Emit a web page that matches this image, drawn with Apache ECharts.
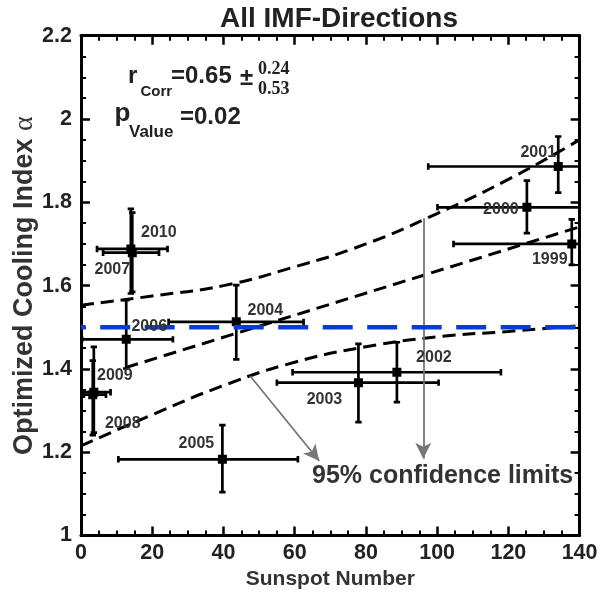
<!DOCTYPE html>
<html>
<head>
<meta charset="utf-8">
<script src="https://cdn.jsdelivr.net/npm/echarts@6/dist/echarts.min.js"></script>
<style>
  html, body { margin: 0; padding: 0; background: #fff; }
  #chart { width: 608px; height: 593px; }
</style>
</head>
<body>
<div id="chart"></div>
<script>
// Yearly observations: sunspot number and optimized cooling index, each with its range
const years       = ['1999', '2000', '2001', '2002', '2003', '2004', '2005', '2006', '2007', '2008', '2009', '2010'];
const sunspot     = [137.8, 125.2, 134.0, 88.7, 77.9, 43.6, 39.7, 12.7, 14.4, 3.3, 3.6, 14.0];
const sunspotLow  = [104.6, 100.1, 97.5, 59.4, 55.0, 24.6, 10.5, 0.3, 6.2, 0.8, 0.2, 4.5];
const sunspotHigh = [171.0, 150.3, 170.5, 117.9, 100.4, 62.5, 60.9, 25.8, 21.9, 7.0, 8.3, 24.3];
const alpha       = [1.700, 1.788, 1.886, 1.392, 1.367, 1.513, 1.183, 1.471, 1.679, 1.338, 1.344, 1.688];
const alphaLow    = [1.650, 1.726, 1.823, 1.320, 1.272, 1.423, 1.104, 1.401, 1.585, 1.241, 1.247, 1.581];
const alphaHigh   = [1.759, 1.852, 1.958, 1.464, 1.460, 1.601, 1.265, 1.565, 1.775, 1.420, 1.453, 1.784];

// Linear fit and its 95% confidence limits
const fitX      = [12.5, 140];
const fitY      = [1.403, 1.741];
const bandX     = [0, 20, 40, 60, 80, 100, 120, 140];
const bandUpper = [1.553, 1.575, 1.600, 1.645, 1.700, 1.773, 1.855, 1.950];
const bandLower = [1.215, 1.290, 1.360, 1.416, 1.453, 1.477, 1.490, 1.504];
const referenceAlpha = 1.5;

// Axis ranges and tick labels
const xTicks = [0, 20, 40, 60, 80, 100, 120, 140];
const yTicks = ['1', '1.2', '1.4', '1.6', '1.8', '2', '2.2'];

// Annotation arrows pointing at the confidence limits (start -> head tip)
const arrowLower = [[47.5, 1.383], [66.9, 1.179]];
const arrowUpper = [[96.1, 1.762], [96.1, 1.184]];

// Year label placement around each point (pixels)
const labelOffset = {
  '1999': [-22, 16], '2000': [-26, 2], '2001': [-20, -14], '2002': [37, -15],
  '2003': [-34, 17], '2004': [29, -11], '2005': [-26, -16], '2006': [23, -13],
  '2007': [-20, 17], '2008': [30, 29], '2009': [21, -17], '2010': [28, -16]
};

const FONT = '"Liberation Sans", Arial, Helvetica, sans-serif';
const SERIF = '"Liberation Serif", "Times New Roman", serif';

const pointData = years.map((y, i) => [sunspot[i], alpha[i], sunspotLow[i], sunspotHigh[i], alphaLow[i], alphaHigh[i], y]);

function renderErrorBar(params, api) {
  const x = api.value(0), y = api.value(1);
  const c  = api.coord([x, y]);
  const xl = api.coord([api.value(2), y]);
  const xh = api.coord([api.value(3), y]);
  const yl = api.coord([x, api.value(4)]);
  const yh = api.coord([x, api.value(5)]);
  const cap = 3.2, half = 4.5;
  const st = { stroke: '#000', lineWidth: 2.7, fill: null };
  const seg = (x1, y1, x2, y2) => ({ type: 'line', shape: { x1, y1, x2, y2 }, style: st });
  return {
    type: 'group',
    children: [
      seg(xl[0], c[1], xh[0], c[1]),
      seg(xl[0], c[1] - cap, xl[0], c[1] + cap),
      seg(xh[0], c[1] - cap, xh[0], c[1] + cap),
      seg(c[0], yl[1], c[0], yh[1]),
      seg(c[0] - cap, yl[1], c[0] + cap, yl[1]),
      seg(c[0] - cap, yh[1], c[0] + cap, yh[1]),
      { type: 'rect', shape: { x: c[0] - half, y: c[1] - half, width: half * 2, height: half * 2 }, style: { fill: '#000' } }
    ]
  };
}

function renderYearLabel(params, api) {
  const c = api.coord([api.value(0), api.value(1)]);
  const yr = years[params.dataIndex];
  const off = labelOffset[yr];
  return {
    type: 'text',
    x: c[0] + off[0], y: c[1] + off[1],
    style: { text: yr, fill: '#333', fontFamily: FONT, fontWeight: 'bold', fontSize: 16, align: 'center', verticalAlign: 'middle' }
  };
}

const tickStyle = { show: true, inside: true, length: 9, lineStyle: { color: '#000', width: 2.5 } };
const minorStyle = { show: true, splitNumber: 4, length: 5, lineStyle: { color: '#000', width: 2 } };
const lineAxis = { show: true, onZero: false, lineStyle: { color: '#000', width: 3 } };
const labelStyle = { fontFamily: FONT, fontWeight: 'bold', fontSize: 21.5, color: '#222' };

const dashBlack = { color: '#000', width: 3, type: [13, 7] };

const option = {
  animation: false,
  backgroundColor: '#fff',
  grid: { left: 81, right: 28.4, top: 35.7, bottom: 57.5, containLabel: false, outerBoundsMode: 'none' },
  xAxis: [
    {
      type: 'value', min: xTicks[0], max: xTicks[xTicks.length - 1], interval: 20, position: 'bottom',
      axisLine: lineAxis, axisTick: tickStyle, minorTick: minorStyle, splitLine: { show: false },
      axisLabel: Object.assign({ margin: 7 }, labelStyle),
      name: 'Sunspot Number', nameLocation: 'middle', nameGap: 33, nameMoveOverlap: false,
      nameTextStyle: { fontFamily: FONT, fontWeight: 'bold', fontSize: 21, color: '#333' }
    },
    {
      type: 'value', min: xTicks[0], max: xTicks[xTicks.length - 1], interval: 20, position: 'top',
      axisLine: lineAxis, axisTick: tickStyle, minorTick: minorStyle, splitLine: { show: false },
      axisLabel: { show: false }
    }
  ],
  yAxis: [
    {
      type: 'value', min: 1, max: 2.2, interval: 0.2, position: 'left',
      axisLine: lineAxis, axisTick: tickStyle, minorTick: minorStyle, splitLine: { show: false },
      axisLabel: Object.assign({ margin: 9, formatter: (v) => yTicks[Math.round((v - 1) / 0.2)] }, labelStyle),
      name: 'Optimized Cooling Index {a|α}', nameLocation: 'middle', nameGap: 42, nameMoveOverlap: false,
      nameTextStyle: {
        fontFamily: FONT, fontWeight: 'bold', fontSize: 27, color: '#333',
        rich: { a: { fontFamily: SERIF, fontWeight: 'normal', fontSize: 28, color: '#333' } }
      }
    },
    {
      type: 'value', min: 1, max: 2.2, interval: 0.2, position: 'right',
      axisLine: lineAxis, axisTick: tickStyle, minorTick: minorStyle, splitLine: { show: false },
      axisLabel: { show: false }
    }
  ],
  title: {
    text: 'All IMF-Directions', left: 215, top: 0,
    textStyle: { fontFamily: FONT, fontWeight: 'bold', fontSize: 28, color: '#222' }
  },
  series: [
    {
      name: 'errorbars', type: 'custom', xAxisIndex: 0, yAxisIndex: 0, clip: true, z: 3,
      renderItem: renderErrorBar, data: pointData, silent: true
    },
    {
      name: 'upper', type: 'line', smooth: true, symbol: 'none', z: 4, silent: true,
      data: bandX.map((x, i) => [x, bandUpper[i]]), lineStyle: dashBlack
    },
    {
      name: 'lower', type: 'line', smooth: true, symbol: 'none', z: 4, silent: true,
      data: bandX.map((x, i) => [x, bandLower[i]]), lineStyle: dashBlack,
      markLine: {
        silent: true, symbol: ['none', 'arrow'], symbolSize: [12, 16],
        label: { show: false }, emphasis: { disabled: true },
        lineStyle: { color: '#777', width: 1.8, type: 'solid' },
        data: [
          [{ coord: arrowLower[0] }, { coord: arrowLower[1] }],
          [{ coord: arrowUpper[0] }, { coord: arrowUpper[1] }]
        ]
      }
    },
    {
      name: 'fit', type: 'line', symbol: 'none', z: 4, silent: true,
      data: fitX.map((x, i) => [x, fitY[i]]), lineStyle: dashBlack
    },
    {
      name: 'reference', type: 'line', symbol: 'none', z: 5, silent: true,
      data: [[xTicks[0], referenceAlpha], [xTicks[xTicks.length - 1], referenceAlpha]],
      lineStyle: { color: '#0b3bd6', width: 4.5, type: [30, 14.5], dashOffset: 25.3 }
    },
    {
      name: 'years', type: 'custom', z: 6, silent: true,
      renderItem: renderYearLabel, data: pointData
    }
  ],
  graphic: [
    { type: 'text', x: 128, y: 76.7, style: { text: 'r', font: 'bold 24px ' + FONT, fill: '#222', verticalAlign: 'middle' } },
    { type: 'text', x: 140.5, y: 91.7, style: { text: 'Corr', font: 'bold 15px ' + FONT, fill: '#222', verticalAlign: 'middle' } },
    { type: 'text', x: 171, y: 76.7, style: { text: '=0.65', font: 'bold 24px ' + FONT, fill: '#222', verticalAlign: 'middle' } },
    { type: 'text', x: 240, y: 78, style: { text: '±', font: 'bold 24px ' + FONT, fill: '#222', verticalAlign: 'middle' } },
    { type: 'text', x: 258, y: 69.2, style: { text: '0.24', font: 'bold 18px ' + SERIF, fill: '#222', verticalAlign: 'middle' } },
    { type: 'text', x: 258, y: 89.7, style: { text: '0.53', font: 'bold 18px ' + SERIF, fill: '#222', verticalAlign: 'middle' } },
    { type: 'text', x: 114.5, y: 114, style: { text: 'p', font: 'bold 26px ' + FONT, fill: '#222', verticalAlign: 'middle' } },
    { type: 'text', x: 129, y: 132, style: { text: 'Value', font: 'bold 17px ' + FONT, fill: '#222', verticalAlign: 'middle' } },
    { type: 'text', x: 180, y: 117.5, style: { text: '=0.02', font: 'bold 24px ' + FONT, fill: '#222', verticalAlign: 'middle' } },
    { type: 'text', x: 312, y: 476, style: { text: '95% confidence limits', font: 'bold 25px ' + FONT, fill: '#333', verticalAlign: 'middle' } }
  ]
};

const chart = echarts.init(document.getElementById('chart'), null, { renderer: 'canvas' });
chart.setOption(option);
</script>
</body>
</html>
